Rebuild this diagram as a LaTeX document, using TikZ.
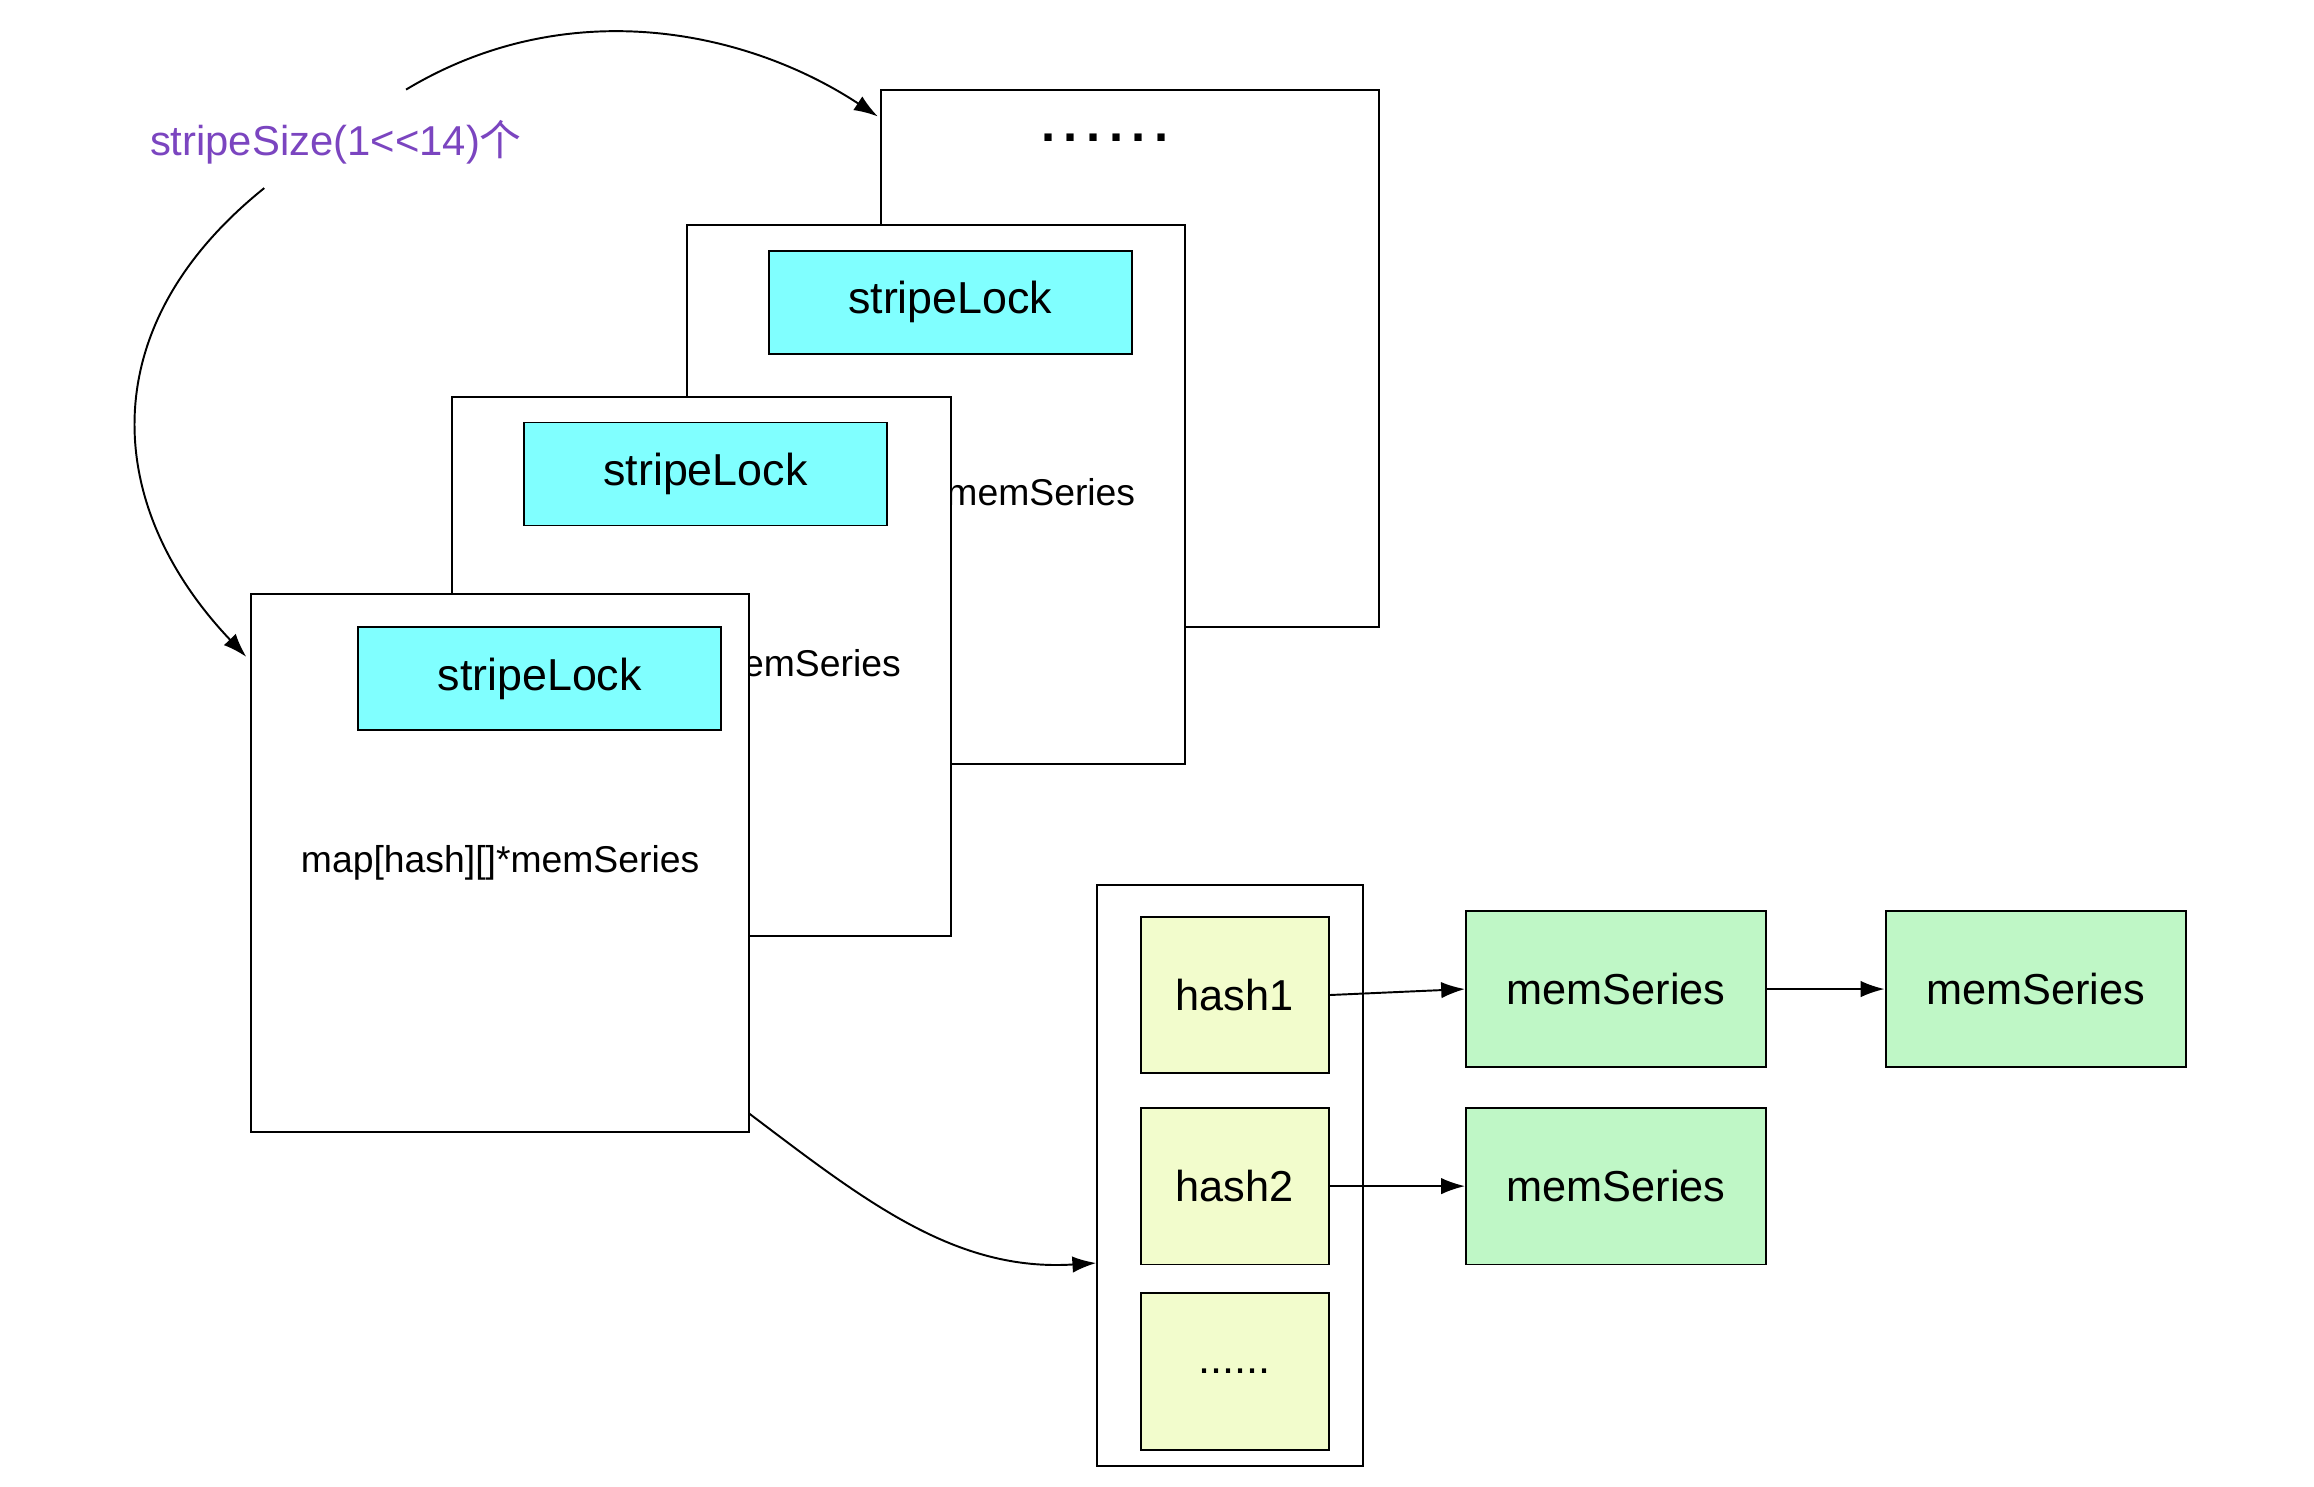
\documentclass[tikz,border=0pt]{standalone}
\usepackage{fontspec}
\setmainfont{Liberation Sans}
\newfontfamily\cjk{Noto Sans CJK SC}
\usetikzlibrary{arrows.meta}
\definecolor{lockc}{HTML}{80FFFF}
\definecolor{hashc}{HTML}{F2FCCC}
\definecolor{memc}{HTML}{BFF7C6}
\definecolor{purp}{HTML}{7B45C0}
\begin{document}
\begin{tikzpicture}[x=1pt,y=-1pt,line width=1.3pt,
  box/.style={draw,fill=white},
  lock/.style={draw,fill=lockc,minimum width=243pt,minimum height=69pt,font=\fontsize{30}{30}\selectfont},
  hash/.style={draw,fill=hashc,minimum width=126pt,minimum height=105pt,font=\fontsize{29}{29}\selectfont},
  mem/.style={draw,fill=memc,minimum width=201pt,minimum height=105pt,font=\fontsize{29}{29}\selectfont},
  txt/.style={font=\fontsize{25}{25}\selectfont},
  arr/.style={-{Latex[length=16pt,width=11pt]}}]
\useasboundingbox (0,0) rectangle (1550,996);
% back box
\draw[box] (590,60) rectangle (924,420);
\node[font=\bfseries\fontsize{34}{34}\selectfont] (dots) at (740,92) {.\,.\,.\,.\,.\,.};
% box2
\draw[box] (460,151) rectangle (794,512);
\node[lock] (l2) at (636.5,202.5) {stripeLock};
\node[txt] (t2) at (627,332) {map[hash][]*memSeries};
% box3
\draw[box] (303,266) rectangle (637,627);
\node[lock] (l3) at (472.5,317.5) {stripeLock};
\node[txt] (t3) at (470,447) {map[hash][]*memSeries};
% box4
\node[box,minimum width=334pt,minimum height=360pt,inner sep=0] (b4) at (335,578) {};
\node[lock] (l4) at (361.5,454.5) {stripeLock};
\node[txt] (t4) at (335,578) {map[hash][]*memSeries};
% label
\node[text=purp,font=\fontsize{28}{28}\selectfont] (lab) at (225,95) {stripeSize(1<{}<14){\cjk 个}};
\coordinate (s1) at (272,60);
\coordinate (e1) at (588,78);
\draw[arr] (s1) .. controls (380,-5) and (500,20) .. (e1);
\coordinate (s2) at (177,126);
\coordinate (e2) at (165,440);
\draw[arr] (s2) .. controls (60,220) and (70,340) .. (e2);
% container
\node[draw,minimum width=178pt,minimum height=389pt,inner sep=0] (cont) at (824,787.5) {};
\node[hash] (h1) at (827,666.5) {hash1};
\node[hash] (h2) at (827,794.5) {hash2};
\node[hash] (h3) at (827,918.5) {......};
\node[mem] (m1) at (1082.5,662.5) {memSeries};
\node[mem] (m2) at (1363.5,662.5) {memSeries};
\node[mem] (m3) at (1082.5,794.5) {memSeries};
\draw[arr] (h1.east) -- (m1.west);
\draw[arr] (m1) -- (m2);
\draw[arr] (h2) -- (m3);
\coordinate (s3) at (502,746);
\draw[arr] (s3) .. controls (580,805) and (640,852) .. (cont.west |- 0,846);
\end{tikzpicture}
\end{document}
